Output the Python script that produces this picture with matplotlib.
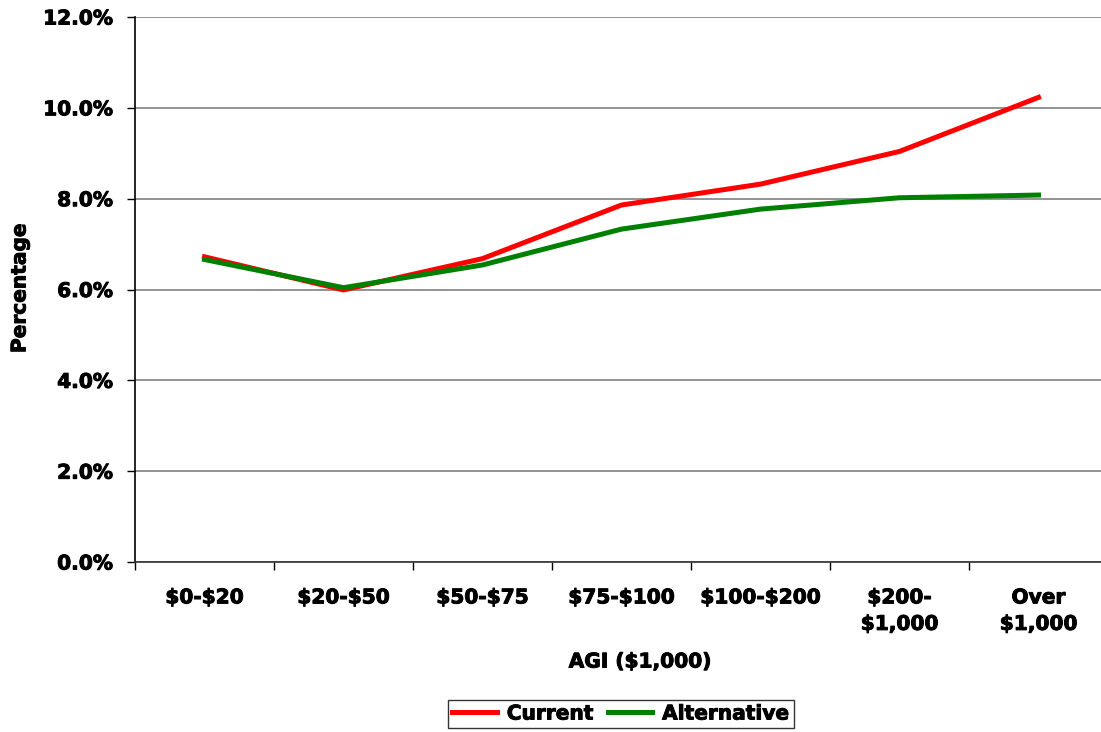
import matplotlib
matplotlib.use("Agg")
import matplotlib.pyplot as plt
import matplotlib.patheffects as pe
from matplotlib.ticker import FixedLocator, PercentFormatter

plt.rcParams['text.parse_math'] = False
plt.rcParams['font.family'] = ['DejaVu Sans']

categories = ["$0-$20", "$20-$50", "$50-$75", "$75-$100", "$100-$200",
              "$200-\n$1,000", "Over\n$1,000"]
current = [6.72, 5.99, 6.68, 7.86, 8.32, 9.04, 10.23]
alternative = [6.66, 6.04, 6.54, 7.33, 7.77, 8.02, 8.08]
y_ticks = [0, 2, 4, 6, 8, 10, 12]

FS = 14.5
heavy = [pe.withStroke(linewidth=0.7, foreground="black")]

W, H = 1101, 732
fig = plt.figure(figsize=(W / 100, H / 100), dpi=100)
left, right, top, bottom = 135, 1108, 17, 562
ax = fig.add_axes([left / W, 1 - bottom / H, (right - left) / W, (bottom - top) / H])

x = list(range(len(categories)))
ax.plot(x, current, color="#ff0000", lw=3.6, label="Current", solid_joinstyle="miter")
ax.plot(x, alternative, color="#008000", lw=3.6, label="Alternative", solid_joinstyle="miter")

ax.set_xlim(-0.5, len(categories) - 0.5)
ax.set_ylim(0, 12)
ax.yaxis.set_major_locator(FixedLocator(y_ticks))
ax.yaxis.set_major_formatter(PercentFormatter(decimals=1))
ax.yaxis.grid(True, color="#808080", lw=1.2)
ax.set_axisbelow(True)

# category labels centered, tick marks at the boundaries
ax.set_xticks(x)
ax.set_xticklabels(categories)
ax.set_xticks([i - 0.5 for i in range(len(categories) + 1)], minor=True)
ax.tick_params(axis="x", which="major", length=0, pad=19)
ax.tick_params(axis="x", which="minor", length=6, width=1, color="black", direction="out")
ax.tick_params(axis="y", length=6, width=1, direction="out", pad=10)

for lbl in ax.get_xticklabels() + ax.get_yticklabels():
    lbl.set_fontsize(FS)
    lbl.set_fontweight("bold")
    lbl.set_path_effects(heavy)
for lbl in ax.get_xticklabels():
    lbl.set_linespacing(1.5)

for s in ("top", "right"):
    ax.spines[s].set_visible(False)
ax.spines["left"].set_color("black")
ax.spines["bottom"].set_color("#333333")
ax.spines["left"].set_linewidth(1.2)
ax.spines["bottom"].set_linewidth(1.2)

fig.text(20 / W, 1 - 288 / H, "Percentage", rotation=90, ha="center", va="center",
         fontsize=FS, fontweight="bold", path_effects=heavy)
fig.text(640 / W, 1 - 662 / H, "AGI ($1,000)", ha="center", va="center",
         fontsize=FS, fontweight="bold", path_effects=heavy)

leg = fig.legend(loc="center", bbox_to_anchor=(621 / W, 1 - 714 / H), ncol=2,
                 frameon=True, fancybox=False, edgecolor="black", handlelength=2.2,
                 columnspacing=0.7, handletextpad=0.5, borderpad=0.2,
                 prop={"size": FS, "weight": "bold"})
leg.get_frame().set_linewidth(1.0)
for t in leg.get_texts():
    t.set_path_effects(heavy)

fig.savefig("out.png", dpi=100)
